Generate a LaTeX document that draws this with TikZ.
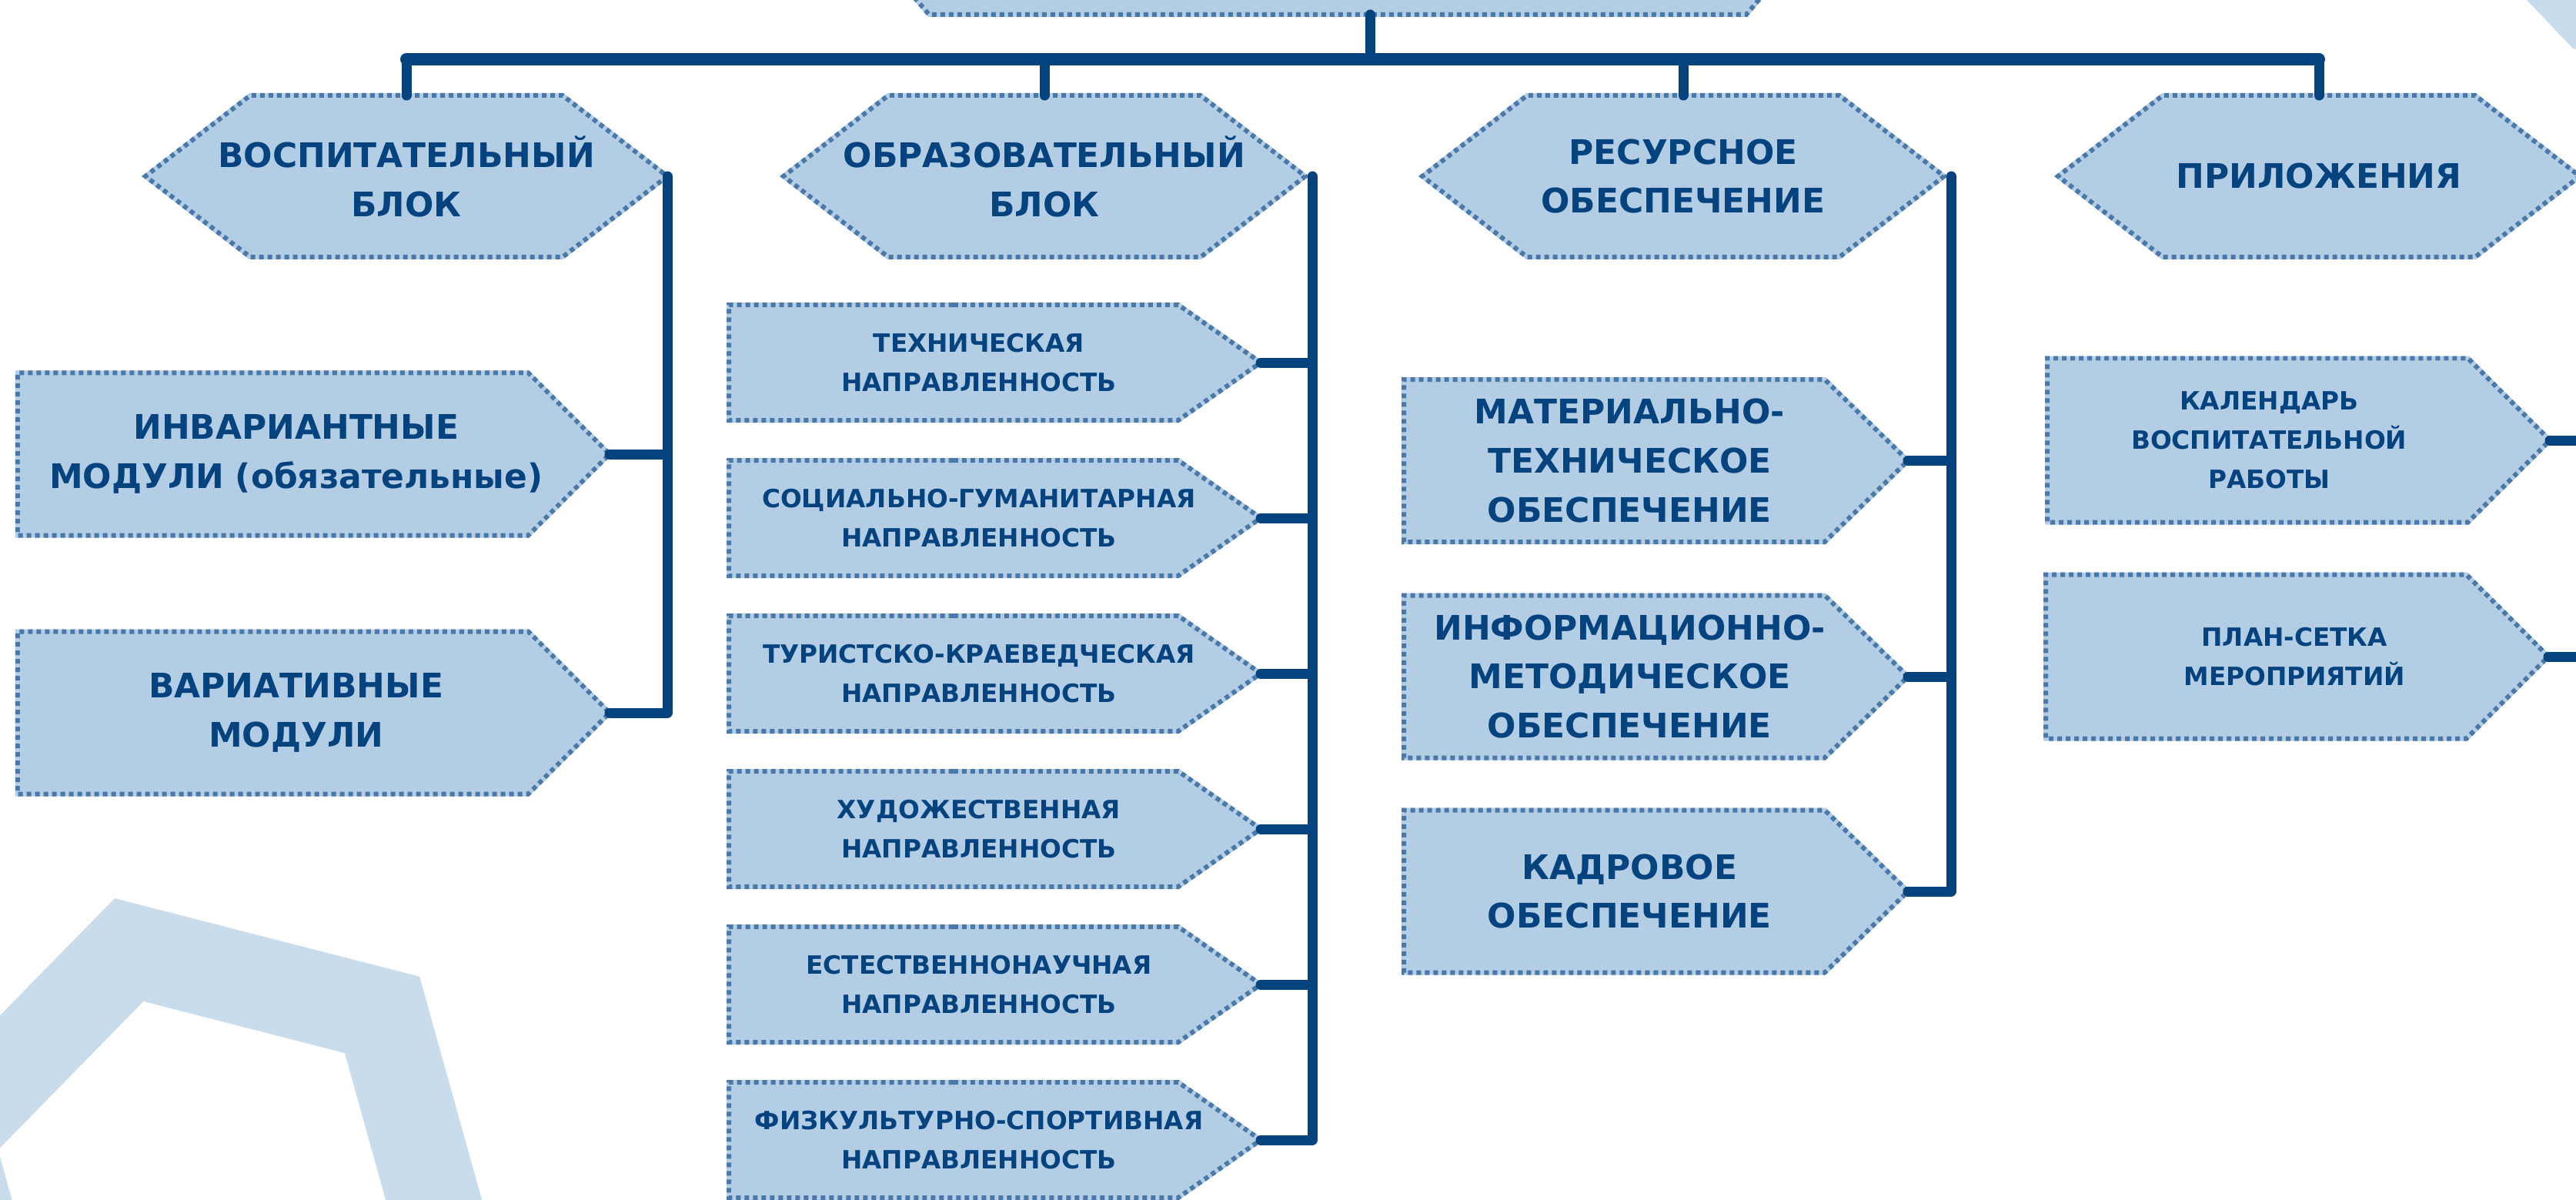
\documentclass[tikz,border=0pt]{standalone}
\usepackage{fontspec}
\setmainfont{DejaVu Sans}
\usetikzlibrary{shapes.symbols}
\definecolor{boxfill}{HTML}{B3CDE5}
\definecolor{boxline}{HTML}{4A78A8}
\definecolor{navy}{HTML}{05437F}
\definecolor{decoblue}{HTML}{C8DCEC}

\begin{document}
\begin{tikzpicture}[
    hexblock/.style={shape=signal, signal to=east and west, signal pointer angle=75.3,
                     minimum width=6.78cm, minimum height=2.10cm, inner ysep=0pt, inner xsep=-4cm,
                     outer sep=0pt, text width=8cm, align=center,
                     fill=boxfill, draw=boxline, line width=0.06cm, dash pattern=on 0.06cm off 0.05cm,
                     preaction={draw=boxfill, solid}, text=navy,
                     font=\fontsize{12.5}{18.2}\selectfont\bfseries},
    textshift/.style={execute at begin node={\advance\leftskip by #1}},
    tagbase/.style={hexblock, signal to=east, anchor=west},
    bigtag/.style={tagbase, signal pointer angle=90, minimum width=7.69cm, minimum height=2.11cm,
                   textshift=0.6cm},
    smalltag/.style={tagbase, signal pointer angle=70, minimum width=6.91cm, minimum height=1.50cm,
                     font=\fontsize{9.3}{14.5}\selectfont\bfseries, textshift=0.66cm},
    restag/.style={tagbase, signal pointer angle=88.6, minimum width=6.55cm, minimum height=2.11cm,
                   textshift=0.4cm},
    apptag/.style={tagbase, signal pointer angle=90, minimum width=6.53cm, minimum height=2.13cm,
                   font=\fontsize{9.3}{14.5}\selectfont\bfseries},
    link/.style={draw=navy, line width=0.13cm, line cap=round, line join=round},
    bus/.style={link, line width=0.16cm}
]
\useasboundingbox (0,0) rectangle (33.47,-15.59);
%% background decoration
\begin{scope}[shift={(2.59,-15.61)}]
  \fill[decoblue, even odd rule]
    (105.6:4.09) -- (45.6:4.09) -- (-14.4:4.09) -- (-74.4:4.09) -- (-134.4:4.09) -- (165.6:4.09) -- cycle
    (105.6:2.70) -- (45.6:2.70) -- (-14.4:2.70) -- (-74.4:2.70) -- (-134.4:2.70) -- (165.6:2.70) -- cycle;
\end{scope}
\fill[decoblue] (32.83,0) -- (33.43,-0.63) -- (33.47,-0.64) -- (33.47,0) -- cycle;
%% top block (cut by the page edge)
\node[hexblock, minimum width=12.41cm, signal pointer angle=99] (root) at (17.38,0.86) {};
%% four blocks
\node[hexblock] (h1) at ( 5.28,-2.29) {ВОСПИТАТЕЛЬНЫЙ\\БЛОК};
\node[hexblock] (h2) at (13.57,-2.29) {ОБРАЗОВАТЕЛЬНЫЙ\\БЛОК};
\node[hexblock] (h3) at (21.87,-2.29) {РЕСУРСНОЕ\\ОБЕСПЕЧЕНИЕ};
\node[hexblock] (h4) at (30.13,-2.29) {ПРИЛОЖЕНИЯ};
%% bus between them
\coordinate (busy) at (0,-0.77);
\draw[link] ([xshift=0.42cm]root.south) -- ([xshift=0.42cm]root.south |- busy);
\draw[bus] (h1.north |- busy) -- (h4.north |- busy);
\draw[link] (h1.north |- busy) -- (h1.north);
\draw[link] (h2.north |- busy) -- (h2.north);
\draw[link] (h3.north |- busy) -- (h3.north);
\draw[link] (h4.north |- busy) -- (h4.north);
%% trunk tops next to each block
\coordinate (t1) at (h1.east);
\coordinate (t2) at ([xshift=0.09cm]h2.east);
\coordinate (t3) at ([xshift=0.09cm]h3.east);
\coordinate (t4) at ([xshift=0.15cm]h4.east);
%% educational modules
\node[bigtag] (m1) at (0.23,-5.90) {ИНВАРИАНТНЫЕ\\МОДУЛИ (обязательные)};
\node[bigtag] (m2) at (0.23,-9.26) {ВАРИАТИВНЫЕ\\МОДУЛИ};
\draw[link] (t1) |- (m2.east);
\draw[link] (m1.east) -- (m1.east -| t1);
%% directions
\node[smalltag] (d1) at (9.47, -4.71) {ТЕХНИЧЕСКАЯ\\НАПРАВЛЕННОСТЬ};
\node[smalltag] (d2) at (9.47, -6.73) {СОЦИАЛЬНО-ГУМАНИТАРНАЯ\\НАПРАВЛЕННОСТЬ};
\node[smalltag] (d3) at (9.47, -8.75) {ТУРИСТСКО-КРАЕВЕДЧЕСКАЯ\\НАПРАВЛЕННОСТЬ};
\node[smalltag] (d4) at (9.47,-10.77) {ХУДОЖЕСТВЕННАЯ\\НАПРАВЛЕННОСТЬ};
\node[smalltag] (d5) at (9.47,-12.79) {ЕСТЕСТВЕННОНАУЧНАЯ\\НАПРАВЛЕННОСТЬ};
\node[smalltag] (d6) at (9.47,-14.81) {ФИЗКУЛЬТУРНО-СПОРТИВНАЯ\\НАПРАВЛЕННОСТЬ};
\draw[link] (t2) |- (d6.east);
\draw[link] (d1.east) -- (d1.east -| t2);
\draw[link] (d2.east) -- (d2.east -| t2);
\draw[link] (d3.east) -- (d3.east -| t2);
\draw[link] (d4.east) -- (d4.east -| t2);
\draw[link] (d5.east) -- (d5.east -| t2);
%% resources
\node[restag] (r1) at (18.24, -5.985) {МАТЕРИАЛЬНО-\\ТЕХНИЧЕСКОЕ\\ОБЕСПЕЧЕНИЕ};
\node[restag] (r2) at (18.24, -8.79) {ИНФОРМАЦИОННО-\\МЕТОДИЧЕСКОЕ\\ОБЕСПЕЧЕНИЕ};
\node[restag] (r3) at (18.24,-11.58) {КАДРОВОЕ\\ОБЕСПЕЧЕНИЕ};
\draw[link] (t3) |- (r3.east);
\draw[link] (r1.east) -- (r1.east -| t3);
\draw[link] (r2.east) -- (r2.east -| t3);
%% appendices
\node[apptag, textshift=0.3cm] (a1) at (26.60,-5.72) {КАЛЕНДАРЬ\\ВОСПИТАТЕЛЬНОЙ\\РАБОТЫ};
\node[apptag, textshift=1.0cm] (a2) at (26.58,-8.53) {ПЛАН-СЕТКА\\МЕРОПРИЯТИЙ};
\draw[link] (t4) |- (a2.east);
\draw[link] (a1.east) -- (a1.east -| t4);
\end{tikzpicture}
\end{document}
